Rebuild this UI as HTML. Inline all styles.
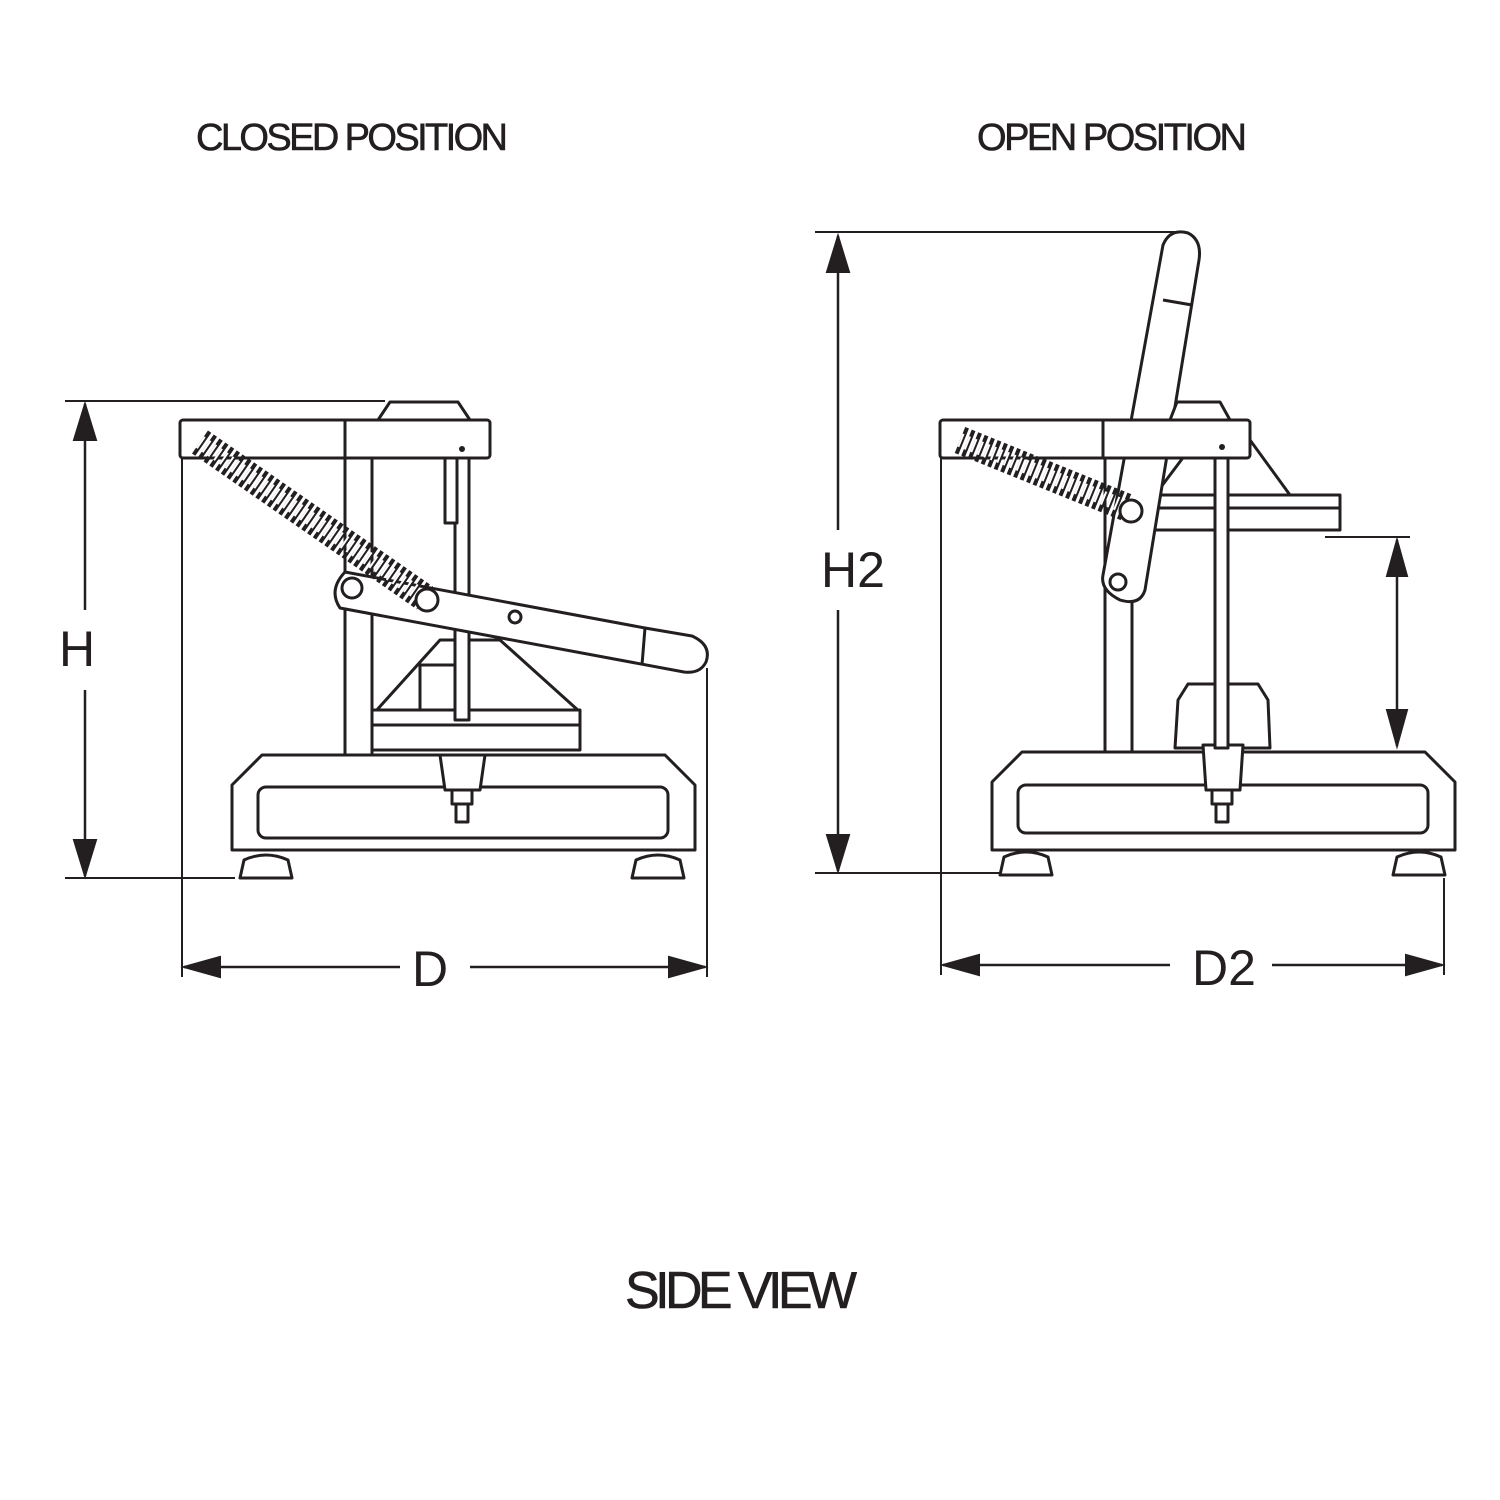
<!DOCTYPE html>
<html><head><meta charset="utf-8"><style>
html,body{margin:0;padding:0;background:#fff;width:1500px;height:1500px;overflow:hidden}
svg{display:block}
text{font-family:"Liberation Sans Narrow","Liberation Sans",sans-serif;fill:#231f20}
</style></head><body>
<svg width="1500" height="1500" viewBox="0 0 1500 1500" xmlns="http://www.w3.org/2000/svg">
<text x="352" y="150" font-size="38" text-anchor="middle" textLength="312" stroke="#231f20" stroke-width="0.6">CLOSED POSITION</text>
<text x="1112" y="150" font-size="38" text-anchor="middle" textLength="270" stroke="#231f20" stroke-width="0.6">OPEN POSITION</text>
<text x="741" y="1308" font-size="52" text-anchor="middle" textLength="232" stroke="#231f20" stroke-width="0.6">SIDE VIEW</text>

<g stroke="#231f20" fill="none" stroke-width="2">
<line x1="65" y1="401" x2="385" y2="401"/><line x1="65" y1="878" x2="235" y2="878"/>
<line x1="85" y1="404" x2="85" y2="610" stroke-width="2.5"/><line x1="85" y1="690" x2="85" y2="876" stroke-width="2.5"/>
<path d="M85,404 l-11,36 h22z M85,876 l-11,-36 h22z" fill="#231f20"/>
<line x1="182" y1="458" x2="182" y2="977"/><line x1="707" y1="668" x2="707" y2="977"/>
<line x1="184" y1="967" x2="400" y2="967" stroke-width="2.5"/><line x1="470" y1="967" x2="705" y2="967" stroke-width="2.5"/>
<path d="M184,967 l36,-10 v20z M705,967 l-36,-10 v20z" fill="#231f20"/>
</g>
<text x="77" y="666" font-size="50" text-anchor="middle">H</text>
<text x="430" y="986" font-size="50" text-anchor="middle">D</text>

<g stroke="#231f20" fill="#fff" stroke-width="3" stroke-linejoin="round">
<path d="M232,785 L262,755 L665,755 L695,785 L695,850 L232,850Z"/>
<rect x="258" y="787" width="410" height="51" rx="8"/>
<path d="M240,878 L244,860 Q266,850 288,860 L292,878Z"/>
<path d="M632,878 L636,860 Q658,850 680,860 L684,878Z"/>
<rect x="345" y="458" width="27" height="297"/>
<path d="M375,712 L440,640 L500,640 L580,712Z"/>
<rect x="420" y="665" width="40" height="45"/>
<rect x="372" y="710" width="208" height="40"/>
<line x1="372" y1="725" x2="580" y2="725"/>
<path d="M440,755 L445,790 L480,790 L485,755Z"/>
<rect x="452" y="790" width="20" height="14"/><rect x="456" y="804" width="12" height="18"/>
<rect x="455" y="458" width="14" height="262"/>
<path d="M345,572 L645,628 L692,636 Q712,645 706,662 Q700,674 684,672 L340,608 Q328,590 345,572Z"/>
<line x1="645" y1="628" x2="642" y2="665"/>
<circle cx="352" cy="588" r="10"/><circle cx="515" cy="617" r="6"/>
<path d="M378,420 L390,402 L458,402 L470,420Z"/>
<rect x="180" y="420" width="310" height="38" rx="3"/>
<line x1="345" y1="420" x2="345" y2="458"/>
<rect x="445" y="458" width="12" height="65"/>
</g>
<line x1="200" y1="442" x2="425" y2="598" stroke="#231f20" stroke-width="28" stroke-dasharray="4 3"/>
<line x1="200" y1="442" x2="425" y2="598" stroke="#fff" stroke-width="14" stroke-dasharray="2 5"/>
<circle cx="427" cy="600" r="11" fill="#fff" stroke="#231f20" stroke-width="3"/>
<circle cx="462" cy="449" r="3" fill="#231f20"/>

<g stroke="#231f20" fill="none" stroke-width="2">
<line x1="815" y1="232" x2="1185" y2="232"/><line x1="815" y1="873" x2="1000" y2="873"/>
<line x1="838" y1="236" x2="838" y2="530" stroke-width="2.5"/><line x1="838" y1="610" x2="838" y2="871" stroke-width="2.5"/>
<path d="M838,236 l-11,36 h22z M838,871 l-11,-36 h22z" fill="#231f20"/>
<line x1="941" y1="458" x2="941" y2="975"/><line x1="1444" y1="878" x2="1444" y2="975"/>
<line x1="943" y1="965" x2="1170" y2="965" stroke-width="2.5"/><line x1="1272" y1="965" x2="1442" y2="965" stroke-width="2.5"/>
<path d="M943,965 l36,-10 v20z M1442,965 l-36,-10 v20z" fill="#231f20"/>
<line x1="1325" y1="537" x2="1410" y2="537"/>
<line x1="1397" y1="540" x2="1397" y2="746" stroke-width="2.5"/>
<path d="M1397,540 l-10,36 h20z M1397,746 l-10,-36 h20z" fill="#231f20"/>
</g>
<text x="853" y="587" font-size="50" text-anchor="middle">H2</text>
<text x="1224" y="985" font-size="50" text-anchor="middle">D2</text>

<g stroke="#231f20" fill="#fff" stroke-width="3" stroke-linejoin="round">
<path d="M992,782 L1022,752 L1425,752 L1455,782 L1455,850 L992,850Z"/>
<rect x="1018" y="785" width="410" height="48" rx="8"/>
<path d="M1000,875 L1004,857 Q1026,847 1048,857 L1052,875Z"/>
<path d="M1393,875 L1397,857 Q1419,847 1441,857 L1445,875Z"/>
<rect x="1105" y="458" width="27" height="294"/>
<path d="M1175,748 L1178,700 L1188,684 L1258,684 L1268,700 L1270,748Z"/>
<path d="M1203,745 L1206,790 L1240,790 L1243,745Z"/>
<rect x="1212" y="790" width="20" height="14"/><rect x="1216" y="804" width="12" height="18"/>
<path d="M1155,495 L1185,455 L1250,440 L1290,495Z"/>
<rect x="1150" y="495" width="190" height="35"/>
<line x1="1150" y1="508" x2="1340" y2="508"/>
<rect x="1215" y="458" width="13" height="290"/>
<path d="M1163,245 Q1170,228 1188,233 Q1202,240 1199,260 L1145,590 Q1140,606 1120,600 Q1100,590 1103,575Z"/>
<line x1="1163" y1="300" x2="1192" y2="305"/>
<circle cx="1118" cy="582" r="8"/>
<path d="M1170,420 L1177,402 L1220,402 L1230,420Z"/>
<rect x="940" y="420" width="310" height="38" rx="3"/>
<line x1="1103" y1="420" x2="1103" y2="458"/>
</g>
<line x1="960" y1="440" x2="1128" y2="508" stroke="#231f20" stroke-width="28" stroke-dasharray="4 3"/>
<line x1="960" y1="440" x2="1128" y2="508" stroke="#fff" stroke-width="14" stroke-dasharray="2 5"/>
<circle cx="1131" cy="511" r="11" fill="#fff" stroke="#231f20" stroke-width="3"/>
<circle cx="1222" cy="447" r="3" fill="#231f20"/>
</svg>
</body></html>
